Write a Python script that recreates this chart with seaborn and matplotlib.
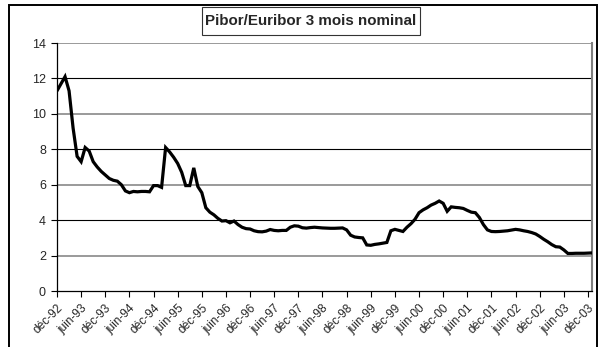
import numpy as np
import pandas as pd
import matplotlib
matplotlib.use("Agg")
import matplotlib.pyplot as plt
from matplotlib.patches import Rectangle
import seaborn as sns

# Taux Pibor / Euribor 3 mois, valeurs mensuelles de déc-92 à janv-04 (%)
rates = [
    11.3, 11.7, 12.1, 11.3, 9.2, 7.6, 7.3, 8.1, 7.9, 7.3, 7.0, 6.75,
    6.55, 6.35, 6.25, 6.2, 6.0, 5.65, 5.55, 5.62, 5.6, 5.62, 5.62, 5.6,
    5.95, 5.95, 5.85, 8.1, 7.85, 7.55, 7.2, 6.7, 5.95, 5.95, 6.95, 5.9,
    5.55, 4.7, 4.45, 4.3, 4.1, 3.95, 3.97, 3.85, 3.95, 3.75, 3.6, 3.52,
    3.5, 3.4, 3.35, 3.34, 3.38, 3.47, 3.42, 3.4, 3.42, 3.42, 3.6, 3.68,
    3.66, 3.57, 3.55, 3.58, 3.6, 3.58, 3.56, 3.55, 3.54, 3.54, 3.55, 3.56,
    3.45, 3.15, 3.05, 3.02, 3.0, 2.6, 2.58, 2.63, 2.66, 2.7, 2.74, 3.4,
    3.48, 3.42, 3.36, 3.6, 3.8, 4.05, 4.42, 4.58, 4.7, 4.85, 4.95, 5.08,
    4.95, 4.5, 4.75, 4.72, 4.7, 4.66, 4.55, 4.45, 4.42, 4.15, 3.75, 3.45,
    3.36, 3.35, 3.36, 3.38, 3.4, 3.44, 3.48, 3.45, 3.4, 3.36, 3.3, 3.22,
    3.08, 2.92, 2.78, 2.62, 2.5, 2.48, 2.32, 2.12, 2.12, 2.13, 2.13, 2.13,
    2.14, 2.15,
]

# Étiquettes semestrielles de l'axe des dates
tick_labels = [
    "déc-92", "juin-93", "déc-93", "juin-94", "déc-94", "juin-95",
    "déc-95", "juin-96", "déc-96", "juin-97", "déc-97", "juin-98",
    "déc-98", "juin-99", "déc-99", "juin-00", "déc-00", "juin-01",
    "déc-01", "juin-02", "déc-02", "juin-03", "déc-03",
]
y_ticks = [0, 2, 4, 6, 8, 10, 12, 14]
title = "Pibor/Euribor 3 mois nominal"

df = pd.DataFrame({"mois": np.arange(len(rates)), "taux": rates})

sns.set_style("white")
plt.rcParams["font.family"] = ["Liberation Sans", "DejaVu Sans"]

W, H = 601, 347
fig = plt.figure(figsize=(W / 100, H / 100), dpi=100)
fig.patch.set_facecolor("white")

left, right, top, bottom = 57, 592, 43, 291
ax = fig.add_axes([left / W, (H - bottom) / H, (right - left) / W, (bottom - top) / H])

# Quadrillage horizontal
for i, y in enumerate(y_ticks[1:]):
    if i % 2 == 0:
        ax.axhline(y, color="#7f7f7f", lw=1.1, zorder=1)
    else:
        ax.axhline(y, color="black", lw=0.8, zorder=1)

sns.lineplot(data=df, x="mois", y="taux", ax=ax, color="black", lw=2.3,
             zorder=3, solid_joinstyle="miter")

ax.set_xlim(0, len(rates) - 1)
ax.set_ylim(0, 14)
ax.set_xlabel("")
ax.set_ylabel("")

ax.set_xticks(np.arange(len(tick_labels)) * 6)
ax.set_xticklabels(tick_labels, rotation=45, ha="right", va="top",
                   rotation_mode="anchor", fontsize=8.6)
ax.set_yticks(y_ticks)
ax.set_yticklabels([str(v) for v in y_ticks], fontsize=9)

ax.tick_params(axis="x", direction="out", length=4, width=0.8, pad=4, color="black")
ax.tick_params(axis="y", direction="out", length=4, width=0.8, pad=4, color="black")
ax.xaxis.set_ticks_position("bottom")
ax.yaxis.set_ticks_position("left")

for side in ("left", "bottom"):
    ax.spines[side].set_color("black")
    ax.spines[side].set_linewidth(0.9)
ax.spines["top"].set_visible(False)
ax.spines["right"].set_color("#7f7f7f")
ax.spines["right"].set_linewidth(1.5)

# Cadre extérieur du graphique
fig.add_artist(Rectangle((9 / W, -0.02), (596.5 - 9) / W, 1.02 - 5 / H,
                         transform=fig.transFigure, fill=False,
                         ec="black", lw=1.4))

# Titre encadré
bx0, bx1, by0, by1 = 202, 420, 7, 34.5
fig.add_artist(Rectangle((bx0 / W, 1 - by1 / H), (bx1 - bx0) / W, (by1 - by0) / H,
                         transform=fig.transFigure, fill=True, fc="white",
                         ec="#333333", lw=0.8))
fig.text((bx0 + bx1) / 2 / W, 1 - (by0 + by1) / 2 / H, title,
         ha="center", va="center", fontsize=10.9, fontweight="bold")

fig.savefig("out.png", dpi=100)
